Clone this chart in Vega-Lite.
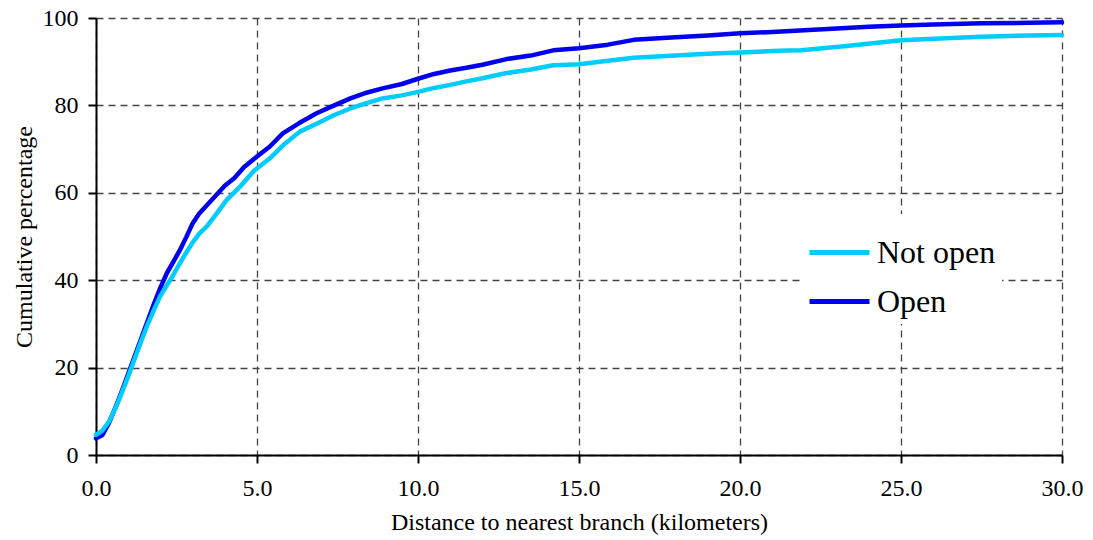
{
  "$schema": "https://vega.github.io/schema/vega-lite/v6.json",
  "width": 966,
  "height": 437,
  "autosize": {"type": "none"},
  "padding": {"left": 96, "top": 18, "right": 31, "bottom": 85},
  "background": "white",
  "config": {
    "view": {"stroke": null},
    "font": "Liberation Serif"
  },
  "data": {
    "values": [
      {"d": 0.0, "p": 3.8, "s": "Open"},
      {"d": 0.2, "p": 4.6, "s": "Open"},
      {"d": 0.4, "p": 7.3, "s": "Open"},
      {"d": 0.6, "p": 10.8, "s": "Open"},
      {"d": 0.8, "p": 14.6, "s": "Open"},
      {"d": 1.0, "p": 18.6, "s": "Open"},
      {"d": 1.2, "p": 22.6, "s": "Open"},
      {"d": 1.4, "p": 26.6, "s": "Open"},
      {"d": 1.6, "p": 30.6, "s": "Open"},
      {"d": 1.8, "p": 34.6, "s": "Open"},
      {"d": 2.0, "p": 38.3, "s": "Open"},
      {"d": 2.2, "p": 41.6, "s": "Open"},
      {"d": 2.4, "p": 44.2, "s": "Open"},
      {"d": 2.6, "p": 46.8, "s": "Open"},
      {"d": 2.8, "p": 49.8, "s": "Open"},
      {"d": 3.0, "p": 53.0, "s": "Open"},
      {"d": 3.2, "p": 55.2, "s": "Open"},
      {"d": 3.4, "p": 56.8, "s": "Open"},
      {"d": 3.6, "p": 58.4, "s": "Open"},
      {"d": 3.8, "p": 60.0, "s": "Open"},
      {"d": 4.0, "p": 61.6, "s": "Open"},
      {"d": 4.3, "p": 63.4, "s": "Open"},
      {"d": 4.6, "p": 65.9, "s": "Open"},
      {"d": 5.0, "p": 68.3, "s": "Open"},
      {"d": 5.4, "p": 70.6, "s": "Open"},
      {"d": 5.8, "p": 73.6, "s": "Open"},
      {"d": 6.3, "p": 75.9, "s": "Open"},
      {"d": 6.85, "p": 78.2, "s": "Open"},
      {"d": 7.4, "p": 80.0, "s": "Open"},
      {"d": 7.9, "p": 81.6, "s": "Open"},
      {"d": 8.4, "p": 82.9, "s": "Open"},
      {"d": 8.9, "p": 83.9, "s": "Open"},
      {"d": 9.5, "p": 84.9, "s": "Open"},
      {"d": 10.0, "p": 86.1, "s": "Open"},
      {"d": 10.5, "p": 87.2, "s": "Open"},
      {"d": 11.0, "p": 88.0, "s": "Open"},
      {"d": 11.5, "p": 88.6, "s": "Open"},
      {"d": 12.0, "p": 89.3, "s": "Open"},
      {"d": 12.75, "p": 90.6, "s": "Open"},
      {"d": 13.5, "p": 91.4, "s": "Open"},
      {"d": 14.2, "p": 92.6, "s": "Open"},
      {"d": 15.0, "p": 93.1, "s": "Open"},
      {"d": 15.9, "p": 93.9, "s": "Open"},
      {"d": 16.7, "p": 95.0, "s": "Open"},
      {"d": 18.0, "p": 95.6, "s": "Open"},
      {"d": 19.0, "p": 96.0, "s": "Open"},
      {"d": 20.0, "p": 96.5, "s": "Open"},
      {"d": 21.0, "p": 96.8, "s": "Open"},
      {"d": 22.0, "p": 97.2, "s": "Open"},
      {"d": 23.0, "p": 97.6, "s": "Open"},
      {"d": 24.0, "p": 98.0, "s": "Open"},
      {"d": 25.0, "p": 98.3, "s": "Open"},
      {"d": 26.0, "p": 98.5, "s": "Open"},
      {"d": 27.5, "p": 98.8, "s": "Open"},
      {"d": 29.0, "p": 98.9, "s": "Open"},
      {"d": 30.0, "p": 99.0, "s": "Open"},
      {"d": 0.0, "p": 4.6, "s": "Not open"},
      {"d": 0.2, "p": 5.6, "s": "Not open"},
      {"d": 0.4, "p": 7.6, "s": "Not open"},
      {"d": 0.6, "p": 10.6, "s": "Not open"},
      {"d": 0.8, "p": 14.2, "s": "Not open"},
      {"d": 1.0, "p": 18.0, "s": "Not open"},
      {"d": 1.2, "p": 22.0, "s": "Not open"},
      {"d": 1.4, "p": 26.0, "s": "Not open"},
      {"d": 1.6, "p": 29.8, "s": "Not open"},
      {"d": 1.8, "p": 33.2, "s": "Not open"},
      {"d": 2.0, "p": 36.4, "s": "Not open"},
      {"d": 2.2, "p": 38.8, "s": "Not open"},
      {"d": 2.4, "p": 41.2, "s": "Not open"},
      {"d": 2.6, "p": 43.8, "s": "Not open"},
      {"d": 2.8, "p": 46.3, "s": "Not open"},
      {"d": 3.0, "p": 48.6, "s": "Not open"},
      {"d": 3.2, "p": 50.6, "s": "Not open"},
      {"d": 3.44, "p": 52.3, "s": "Not open"},
      {"d": 3.7, "p": 54.8, "s": "Not open"},
      {"d": 4.06, "p": 58.4, "s": "Not open"},
      {"d": 4.5, "p": 61.6, "s": "Not open"},
      {"d": 4.9, "p": 65.0, "s": "Not open"},
      {"d": 5.4, "p": 67.9, "s": "Not open"},
      {"d": 5.8, "p": 70.8, "s": "Not open"},
      {"d": 6.33, "p": 74.0, "s": "Not open"},
      {"d": 6.85, "p": 75.8, "s": "Not open"},
      {"d": 7.4, "p": 77.8, "s": "Not open"},
      {"d": 7.9, "p": 79.3, "s": "Not open"},
      {"d": 8.4, "p": 80.5, "s": "Not open"},
      {"d": 8.9, "p": 81.6, "s": "Not open"},
      {"d": 9.5, "p": 82.3, "s": "Not open"},
      {"d": 10.0, "p": 83.1, "s": "Not open"},
      {"d": 10.5, "p": 84.0, "s": "Not open"},
      {"d": 11.0, "p": 84.7, "s": "Not open"},
      {"d": 11.5, "p": 85.5, "s": "Not open"},
      {"d": 12.0, "p": 86.2, "s": "Not open"},
      {"d": 12.75, "p": 87.4, "s": "Not open"},
      {"d": 13.5, "p": 88.2, "s": "Not open"},
      {"d": 14.2, "p": 89.2, "s": "Not open"},
      {"d": 15.0, "p": 89.4, "s": "Not open"},
      {"d": 15.9, "p": 90.2, "s": "Not open"},
      {"d": 16.7, "p": 90.9, "s": "Not open"},
      {"d": 18.0, "p": 91.4, "s": "Not open"},
      {"d": 19.0, "p": 91.8, "s": "Not open"},
      {"d": 20.0, "p": 92.1, "s": "Not open"},
      {"d": 21.2, "p": 92.5, "s": "Not open"},
      {"d": 21.9, "p": 92.6, "s": "Not open"},
      {"d": 23.3, "p": 93.6, "s": "Not open"},
      {"d": 24.2, "p": 94.3, "s": "Not open"},
      {"d": 25.0, "p": 94.9, "s": "Not open"},
      {"d": 26.2, "p": 95.3, "s": "Not open"},
      {"d": 27.5, "p": 95.7, "s": "Not open"},
      {"d": 29.0, "p": 96.0, "s": "Not open"},
      {"d": 30.0, "p": 96.1, "s": "Not open"}
    ]
  },
  "mark": {"type": "line", "strokeWidth": 4.5, "strokeJoin": "round", "strokeCap": "round"},
  "encoding": {
    "x": {
      "field": "d",
      "type": "quantitative",
      "scale": {"domain": [0, 30], "nice": false, "zero": true},
      "axis": {
        "values": [0, 5, 10, 15, 20, 25, 30],
        "format": ".1f",
        "title": "Distance to nearest branch (kilometers)",
        "titleFont": "Liberation Serif",
        "titleFontSize": 24,
        "titleFontWeight": "normal",
        "titleColor": "black",
        "titlePadding": 10,
        "labelFont": "Liberation Serif",
        "labelFontSize": 24,
        "labelColor": "black",
        "labelPadding": 13,
        "labelFlush": false,
        "domainColor": "black",
        "domainWidth": 2,
        "tickColor": "black",
        "tickWidth": 2,
        "tickSize": 8,
        "grid": true,
        "gridColor": "#444444",
        "gridWidth": 1.3,
        "gridDash": [7, 5],
        "gridOpacity": 1
      }
    },
    "y": {
      "field": "p",
      "type": "quantitative",
      "scale": {"domain": [0, 100], "nice": false},
      "axis": {
        "values": [0, 20, 40, 60, 80, 100],
        "title": "Cumulative percentage",
        "titleFont": "Liberation Serif",
        "titleFontSize": 24,
        "titleFontWeight": "normal",
        "titleColor": "black",
        "titlePadding": 6,
        "labelFont": "Liberation Serif",
        "labelFontSize": 24,
        "labelColor": "black",
        "labelPadding": 10,
        "labelFlush": false,
        "domainColor": "black",
        "domainWidth": 2,
        "tickColor": "black",
        "tickWidth": 2,
        "tickSize": 8,
        "grid": true,
        "gridColor": "#444444",
        "gridWidth": 1.3,
        "gridDash": [7, 5],
        "gridOpacity": 1
      }
    },
    "color": {
      "field": "s",
      "type": "nominal",
      "scale": {"domain": ["Not open", "Open"], "range": ["#00CCFF", "#0000EE"]},
      "legend": {
        "title": null,
        "orient": "none",
        "legendX": 705,
        "legendY": 196,
        "padding": 6,
        "fillColor": "white",
        "symbolType": "stroke",
        "symbolSize": 3600,
        "symbolStrokeWidth": 5,
        "labelFont": "Liberation Serif",
        "labelFontSize": 32,
        "labelColor": "black",
        "labelOffset": 5,
        "labelLimit": 300,
        "rowPadding": -3
      }
    }
  }
}
